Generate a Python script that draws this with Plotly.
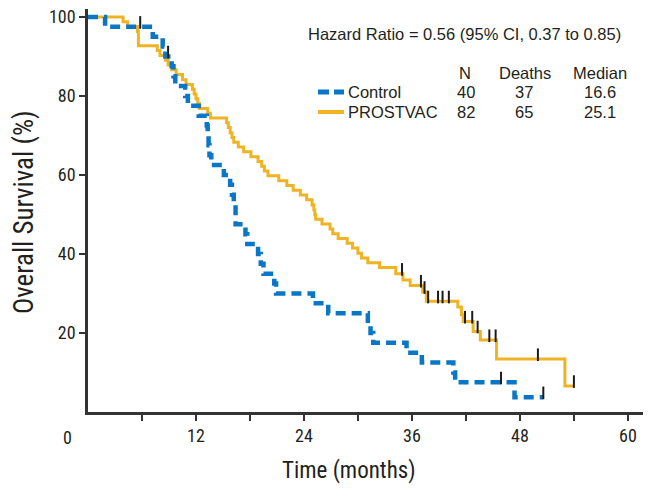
import numpy as np
import plotly.graph_objects as go

# ---- data ----
ctrl_time = [0, 1.9, 7.2, 8.3, 8.6, 9.3, 9.5, 9.7, 10.8, 11.1, 12.3, 13.2, 13.3, 13.4, 13.5, 13.7,
             15.1, 15.8, 16.0, 16.2, 16.4, 17.5, 17.7, 18.9, 19.2, 19.5, 20.7, 20.9, 25.0, 26.7,
             31.1, 31.4, 31.7, 35.4, 37.1, 40.6, 40.8, 47.4, 50.6]
ctrl_surv = [100, 97.5, 95, 92.5, 90, 87.5, 85, 82.5, 80, 77.5, 75, 72.5, 70, 67.5, 65, 62.5,
             60, 57.5, 55, 52.5, 47.5, 45, 42.5, 40, 37.5, 35, 32.5, 30, 27.5, 25,
             22.5, 20, 17.5, 15, 12.5, 10, 7.5, 3.75, 3.75]
ctrl_censor = [5.8, 8.9, 45.9, 50.6]

pv_time = [0, 3.9, 4.4, 5.5, 5.6, 7.7, 8.0, 8.6, 8.9, 9.3, 9.8, 10.5, 10.9, 11.6, 11.8, 12.0,
           12.2, 12.4, 13.3, 13.6, 15.4, 15.6, 15.8, 16.0, 16.2, 16.7, 17.3, 18.1, 18.9, 19.3,
           19.6, 20.0, 21.2, 22.1, 22.8, 23.6, 24.3, 24.9, 25.1, 25.2, 25.3, 26.0, 26.9, 27.2,
           27.8, 28.8, 29.4, 30.0, 30.4, 31.1, 32.4, 34.2, 35.0, 35.8, 37.2, 37.6, 41.1, 41.5,
           41.7, 42.8, 43.6, 45.4, 53.0, 54.0]
pv_surv = [100, 98.8, 97.6, 96.3, 92.7, 91.5, 90.2, 89.0, 87.8, 86.6, 85.4, 84.1, 82.9, 81.7, 80.5, 79.3,
           78.0, 76.8, 75.6, 74.4, 73.2, 72.0, 70.7, 69.5, 68.3, 67.1, 65.9, 64.6, 63.4, 62.2,
           61.0, 59.8, 58.5, 57.3, 56.1, 54.9, 53.7, 52.4, 51.2, 50.0, 48.8, 47.6, 46.3, 45.1,
           43.9, 42.7, 41.5, 40.2, 39.0, 37.8, 36.6, 35.0, 33.4, 32.0, 30.4, 28.0, 26.6, 24.6,
           22.9, 20.4, 18.2, 13.4, 6.6, 6.6]
pv_censor = [34.9, 37.0, 37.4, 37.8, 38.9, 39.4, 40.1, 41.9, 42.7, 43.3, 44.6, 45.3, 50.0, 54.0]

x_tickvals = [6, 12, 18, 24, 30, 36, 42, 48, 54, 60]
x_ticktext = ["", "12", "", "24", "", "36", "", "48", "", "60"]
y_tickvals = [20, 40, 60, 80, 100]

groups = ["Control", "PROSTVAC"]
n_pat = ["40", "82"]
deaths = ["37", "65"]
medians = ["16.6", "25.1"]
hr_text = "Hazard Ratio = 0.56 (95% CI, 0.37 to 0.85)"

BLUE = "#0a77c6"
GOLD = "#f0b323"
INK = "#231f20"
NARROW = "Liberation Sans Narrow, Arial Narrow, Roboto Condensed, sans-serif"
SANS = "Liberation Sans, Arial, Helvetica, sans-serif"

# The page body has an 8px default margin, so the figure is drawn 8px smaller
# and every target pixel position is measured from the page's top-left corner.
OFF = 8
W, H = 651 - OFF, 493 - OFF
PL, PR, PT, PB = 88, 645, 9, 412          # plot area in page pixels
L, T = PL - OFF, PT - OFF
R = W - (PR - OFF)
B = H - (PB - OFF)
XMAX, YMAX = 61.9, 102


def step_at(times, surv, t):
    i = np.searchsorted(np.array(times), t, side="right") - 1
    return surv[max(i, 0)]


def px(xp):
    return (xp - PL) / (PR - PL)


def py(yp):
    return (PB - yp) / (PB - PT)


fig = go.Figure()
fig.add_trace(go.Scatter(x=pv_time, y=pv_surv, mode="lines", line_shape="hv",
                         line=dict(color=GOLD, width=3), showlegend=False, hoverinfo="skip"))
fig.add_trace(go.Scatter(x=ctrl_time, y=ctrl_surv, mode="lines", line_shape="hv",
                         line=dict(color=BLUE, width=4.5, dash="10px,6px"), showlegend=False,
                         hoverinfo="skip"))

# censor ticks (drawn pointing upward from the curve)
for times, surv, cens in [(ctrl_time, ctrl_surv, ctrl_censor), (pv_time, pv_surv, pv_censor)]:
    cy = [step_at(times, surv, t) + 1.1 for t in cens]
    fig.add_trace(go.Scatter(x=cens, y=cy, mode="markers", showlegend=False, hoverinfo="skip",
                             marker=dict(symbol="line-ns", size=9,
                                         line=dict(color="#1a1a1a", width=2))))

ann = []
ann.append(dict(text=hr_text, x=px(306), y=py(34), xanchor="left", yanchor="middle"))
for lbl, xc in [("N", 465), ("Deaths", 525), ("Median", 600)]:
    ann.append(dict(text=lbl, x=px(xc), y=py(73), xanchor="center", yanchor="middle"))
for i, g in enumerate(groups):
    yy = py(92 + 20 * i)
    ann.append(dict(text=g, x=px(346), y=yy, xanchor="left", yanchor="middle"))
    ann.append(dict(text=n_pat[i], x=px(466), y=yy, xanchor="center", yanchor="middle"))
    ann.append(dict(text=deaths[i], x=px(524), y=yy, xanchor="center", yanchor="middle"))
    ann.append(dict(text=medians[i], x=px(600), y=yy, xanchor="center", yanchor="middle"))
for a in ann:
    a.update(xref="paper", yref="paper", showarrow=False, font=dict(family=SANS, size=16.5, color=INK))

ann.append(dict(text="0", x=px(67), y=py(437), xref="paper", yref="paper", showarrow=False,
                xanchor="center", yanchor="middle", font=dict(family=NARROW, size=18, color=INK)))
ann.append(dict(text="Time (months)", x=px(349), y=py(470), xref="paper", yref="paper",
                showarrow=False, xanchor="center", yanchor="middle",
                font=dict(family=NARROW, size=23, color=INK)))
ann.append(dict(text="Overall Survival (%)", x=px(24), y=py(212), xref="paper", yref="paper",
                showarrow=False, xanchor="center", yanchor="middle", textangle=-90,
                font=dict(family=NARROW, size=27, color=INK)))

shapes = [
    dict(type="line", xref="paper", yref="paper", x0=px(318), x1=px(329), y0=py(92), y1=py(92),
         line=dict(color=BLUE, width=5)),
    dict(type="line", xref="paper", yref="paper", x0=px(334), x1=px(344), y0=py(92), y1=py(92),
         line=dict(color=BLUE, width=5)),
    dict(type="line", xref="paper", yref="paper", x0=px(318), x1=px(344), y0=py(112), y1=py(112),
         line=dict(color=GOLD, width=4)),
]

fig.update_layout(
    width=W, height=H, margin=dict(l=L, r=R, t=T, b=B, autoexpand=False),
    paper_bgcolor="white", plot_bgcolor="white",
    annotations=ann, shapes=shapes,
    xaxis=dict(range=[0, XMAX], tickmode="array", tickvals=x_tickvals, ticktext=x_ticktext,
               ticks="outside", ticklen=6, tickwidth=1.5, tickcolor="#333", automargin=False,
               ticklabeloverflow="allow",
               showline=True, linecolor="#333", linewidth=2.5, showgrid=False, zeroline=False,
               tickfont=dict(family=NARROW, size=18, color=INK), fixedrange=True),
    yaxis=dict(range=[0, YMAX], tickmode="array", tickvals=y_tickvals, automargin=False,
               ticklabeloverflow="allow",
               ticks="outside", ticklen=6, tickwidth=1.5, tickcolor="#333",
               showline=True, linecolor="#333", linewidth=2.5, showgrid=False, zeroline=False,
               tickfont=dict(family=NARROW, size=18, color=INK), fixedrange=True),
)

fig.write_html("out.html")
